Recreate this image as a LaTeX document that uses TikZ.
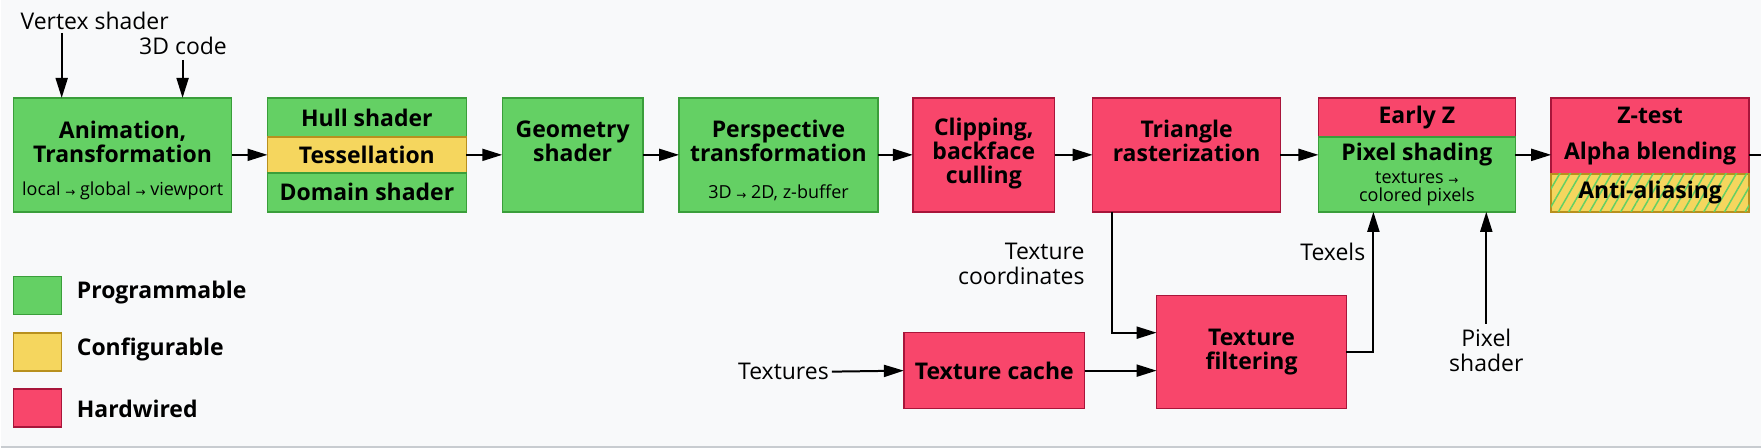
\documentclass[tikz,border=0pt]{standalone}
\usepackage{fontspec}
\setmainfont{Open Sans}
\newfontfamily\symfont{DejaVu Sans}
\usetikzlibrary{arrows.meta,calc,positioning,patterns.meta}
\definecolor{Canvas}{HTML}{F8F9FA}
\definecolor{Rule}{HTML}{C8CCD0}
\definecolor{ProgFill}{HTML}{64D064}
\definecolor{ProgLine}{HTML}{3A9E3A}
\definecolor{ConfFill}{HTML}{F5D65E}
\definecolor{ConfLine}{HTML}{B8901E}
\definecolor{HardFill}{HTML}{F8466B}
\definecolor{HardLine}{HTML}{A8153A}
\newcommand{\smallarr}{{\symfont\fontsize{12}{12}\selectfont\raisebox{-1pt}{→}}}

\tikzset{
  stage/.style={draw, line width=1.5pt, inner sep=0pt, outer sep=0pt, align=center},
  prog/.style={stage, fill=ProgFill, draw=ProgLine},
  conf/.style={stage, fill=ConfFill, draw=ConfLine},
  hard/.style={stage, fill=HardFill, draw=HardLine},
  stagetitle/.style={font=\bfseries\fontsize{23}{24}\selectfont, align=center, inner sep=0pt},
  stagenote/.style={font=\fontsize{18}{18}\selectfont, align=center, inner sep=0pt},
  freetext/.style={font=\fontsize{23}{25}\selectfont, inner sep=0pt},
  flow/.style={-{Triangle[length=20pt,width=12pt]}, line width=2pt},
}

\begin{document}
\begin{tikzpicture}[x=1pt, y=-1pt]
  \fill[Canvas] (0,0) rectangle (1762,448);
  \draw[line width=1.5pt, color=Rule] (0,447.2) -- (1762,447.2);

  % geometry stages
  \node[prog, minimum width=218pt, minimum height=114pt] (anim) at (122,155) {};
  \node[stagetitle] (animT) at (122,142) {Animation,\\Transformation};
  \node[stagenote] (animN) at (122,191) {local \smallarr{} global \smallarr{} viewport};
  \node[prog, minimum width=199pt, minimum height=39pt, font=\bfseries\fontsize{23}{24}\selectfont] (hull) at (366.5,117.5) {Hull shader};
  \node[conf, minimum width=199pt, minimum height=36pt, font=\bfseries\fontsize{23}{24}\selectfont] (tess) at (366.5,155) {Tessellation};
  \node[prog, minimum width=199pt, minimum height=39pt, font=\bfseries\fontsize{23}{24}\selectfont] (domain) at (366.5,192.5) {Domain shader};
  \node[prog, minimum width=141pt, minimum height=114pt] (geom) at (572.5,155) {};
  \node[stagetitle] (geomT) at (572.5,141) {Geometry\\shader};
  \node[prog, minimum width=199pt, minimum height=114pt] (persp) at (778.5,155) {};
  \node[stagetitle] (perspT) at (778.5,141) {Perspective\\transformation};
  \node[stagenote] (perspN) at (778.5,193) {3D \smallarr{} 2D, z-buffer};

  % raster stages
  \node[hard, minimum width=142pt, minimum height=114pt] (clip) at (984,155) {};
  \node[stagetitle] (clipT) at (984,153.5) {Clipping,\\backface\\culling};
  \node[hard, minimum width=188pt, minimum height=114pt] (tri) at (1187,155) {};
  \node[stagetitle] (triT) at (1187,141) {Triangle\\rasterization};
  \node[hard, minimum width=197pt, minimum height=39pt, font=\bfseries\fontsize{23}{24}\selectfont] (early) at (1417.5,117.5) {Early Z};
  \node[prog, minimum width=197pt, minimum height=75pt, font=\fontsize{18}{18}\selectfont] (pixel) at (1417.5,174.5)
    {{\bfseries\fontsize{23}{24}\selectfont Pixel shading}\\[5pt]textures \smallarr\\colored pixels};
  \node[hard, minimum width=198pt, minimum height=76pt, font=\bfseries\fontsize{23}{24}\selectfont] (ztest) at (1651,136) {Z-test\\[12pt]Alpha blending};
  \node[conf, minimum width=198pt, minimum height=38pt, font=\bfseries\fontsize{23}{24}\selectfont,
    postaction={pattern={Lines[angle=60,distance=9pt,line width=1.5pt]}, pattern color=ProgFill}] (aa) at (1651,193) {Anti-aliasing};

  % texture path
  \node[hard, minimum width=181pt, minimum height=76pt, font=\bfseries\fontsize{23}{24}\selectfont] (cache) at (994.5,371) {Texture cache};
  \node[hard, minimum width=190pt, minimum height=113pt, font=\bfseries\fontsize{23}{24}\selectfont] (filter) at (1252,352.5) {Texture\\filtering};

  % free labels
  \node[freetext] (vsLbl) at (94,21) {Vertex shader};
  \node[freetext] (codeLbl) at (182.5,46) {3D code};
  \node[freetext, align=right, anchor=east] (coordLbl) at (1085,264.5) {Texture\\coordinates};
  \node[freetext, anchor=east] (texLbl) at (829,372) {Textures};
  \node[freetext, anchor=east] (texelLbl) at (1366,252) {Texels};
  \node[freetext, align=center] (pshLbl) at (1487,350.5) {Pixel\\shader};
  \coordinate (vsTop) at (61,33);
  \coordinate (codeTop) at (182,60);
  \coordinate (exit) at (1762,155);

  % legend
  \node[prog, minimum width=48pt, minimum height=38pt] (keyP) at (37,296) {};
  \node[conf, minimum width=48pt, minimum height=38pt] (keyC) at (37,352.5) {};
  \node[hard, minimum width=48pt, minimum height=38pt] (keyH) at (37,408.5) {};
  \node[stagetitle, anchor=west] (keyPT) at (76,293) {Programmable};
  \node[stagetitle, anchor=west] (keyCT) at (76,350) {Configurable};
  \node[stagetitle, anchor=west] (keyHT) at (76,409) {Hardwired};

  % connectors
  \draw[flow] (vsTop) -- (vsTop |- anim.north);
  \draw[flow] (codeTop) -- (codeTop |- anim.north);
  \draw[flow] (anim.east) -- (tess.west);
  \draw[flow] (tess.east) -- (geom.west);
  \draw[flow] (geom.east) -- (persp.west);
  \draw[flow] (persp.east) -- (clip.west);
  \draw[flow] (clip.east) -- (tri.west);
  \draw[flow] (tri.east) -- (tri.east -| pixel.west);
  \draw[flow] (tri.east -| pixel.east) -- (tri.east -| ztest.west);
  \draw[line width=2pt] (tri.east -| ztest.east) -- (exit);
  \draw[flow] ([xshift=-75pt]tri.south) |- ([yshift=19.5pt]filter.west);
  \draw[flow] ([xshift=3pt]texLbl.east) -- (cache.west);
  \draw[flow] (cache.east) -- (cache.east -| filter.west);
  \draw[flow] (filter.east) -| ([xshift=-43.5pt]pixel.south);
  \draw[flow] ([yshift=5pt]pshLbl.north) -- (pshLbl.north |- pixel.south);
\end{tikzpicture}
\end{document}
